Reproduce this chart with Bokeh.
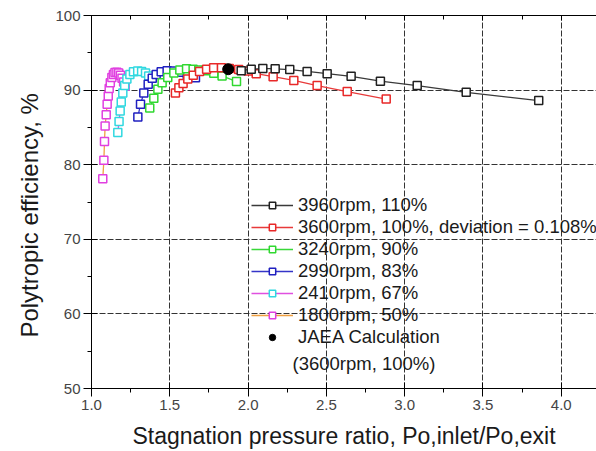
from bokeh.plotting import figure
from bokeh.models import (Legend, LegendItem, LinearAxis, FixedTicker,
                          PrintfTickFormatter, Label)
from bokeh.embed import file_html
from bokeh.resources import INLINE

# ---------------- data ----------------
pr_3960 = [1.956, 2.020, 2.094, 2.173, 2.266, 2.377, 2.505, 2.658, 2.845, 3.080, 3.393, 3.856]
eff_3960 = [92.6, 92.8, 92.9, 92.85, 92.75, 92.5, 92.2, 91.85, 91.2, 90.6, 89.7, 88.6]

pr_3600 = [1.536, 1.558, 1.585, 1.615, 1.650, 1.690, 1.735, 1.780, 1.830, 1.880, 1.940, 2.000,
           2.052, 2.160, 2.292, 2.441, 2.633, 2.882]
eff_3600 = [89.6, 90.3, 90.9, 91.5, 92.0, 92.5, 92.8, 93.0, 93.0, 92.9, 92.75, 92.55,
            92.2, 91.8, 91.3, 90.6, 89.8, 88.8]

pr_3240 = [1.372, 1.398, 1.424, 1.451, 1.487, 1.526, 1.564, 1.607, 1.649, 1.685, 1.728,
           1.781, 1.834, 1.926]
eff_3240 = [87.6, 88.9, 90.1, 91.0, 91.7, 92.3, 92.7, 92.85, 92.8, 92.7, 92.6,
            92.25, 91.9, 91.15]

pr_2990 = [1.296, 1.313, 1.334, 1.362, 1.388, 1.413, 1.445, 1.483, 1.526, 1.568, 1.611, 1.664]
eff_2990 = [86.4, 88.1, 89.6, 90.8, 91.6, 92.1, 92.45, 92.6, 92.55, 92.4, 92.1, 91.65]

pr_2410 = [1.168, 1.176, 1.183, 1.190, 1.200, 1.212, 1.226, 1.245, 1.268, 1.295, 1.320,
           1.345, 1.365]
eff_2410 = [84.3, 85.8, 87.2, 88.4, 89.6, 90.6, 91.5, 92.1, 92.45, 92.55, 92.5,
            92.3, 91.9]

pr_1800 = [1.072, 1.079, 1.083, 1.087, 1.094, 1.100, 1.107, 1.113, 1.120, 1.130, 1.140,
           1.150, 1.162, 1.174, 1.185, 1.195, 1.205, 1.215]
eff_1800 = [78.1, 80.6, 83.1, 85.2, 86.7, 88.1, 89.2, 90.2, 91.0, 91.7, 92.1,
            92.35, 92.4, 92.3, 92.0, 91.6, 91.1, 90.5]

pr_jaea = [1.873]
eff_jaea = [92.8]

series_labels = ["3960rpm, 110%", "3600rpm, 100%, deviation = 0.108%", "3240rpm, 90%",
                 "2990rpm, 83%", "2410rpm, 67%", "1800rpm, 50%"]
jaea_label = ["JAEA Calculation", "(3600rpm, 100%)"]

x_ticks = [1.0, 1.5, 2.0, 2.5, 3.0, 3.5, 4.0]
x_minor = [1.25, 1.75, 2.25, 2.75, 3.25, 3.75, 4.25]
y_ticks = [50, 60, 70, 80, 90, 100]
y_minor = [55, 65, 75, 85, 95]

x_title = "Stagnation pressure ratio, Po,inlet/Po,exit"
y_title = "Polytropic efficiency, %"

# ---------------- styling ----------------
line_colors = ["#3a3a3a", "#e83a3a", "#3ad83a", "#3434c8", "#e050e0", "#f0a040"]
mark_colors = ["#202020", "#e82828", "#30d830", "#2020c0", "#30d8e0", "#e040e0"]
FONT = "Liberation Sans"
TXT = "#1a1a1a"

p = figure(width=596, height=451, x_range=(1.0, 4.225), y_range=(50, 100),
           output_backend="svg", toolbar_location=None,
           min_border_left=91, min_border_right=0, min_border_top=15, min_border_bottom=63,
           background_fill_color="white", border_fill_color="white")
p.outline_line_color = None

xt = FixedTicker(ticks=x_ticks, minor_ticks=x_minor)
yt = FixedTicker(ticks=y_ticks, minor_ticks=y_minor)

for ax, t in ((p.xaxis[0], xt), (p.yaxis[0], yt)):
    ax.ticker = t
    ax.axis_line_color = "black"
    ax.major_tick_line_color = "black"
    ax.minor_tick_line_color = "black"
    ax.major_tick_in = 6
    ax.major_tick_out = 8
    ax.minor_tick_in = 0
    ax.minor_tick_out = 4
    ax.major_label_text_font = FONT
    ax.major_label_text_font_size = "15px"
    ax.major_label_text_color = "#444444"
    ax.major_label_standoff = 3
    ax.axis_label_text_font = FONT
    ax.axis_label_text_font_style = "normal"
    ax.axis_label_text_color = TXT

p.xaxis[0].formatter = PrintfTickFormatter(format="%.1f")
p.xaxis[0].axis_label = x_title
p.xaxis[0].axis_label_text_font_size = "23px"
p.xaxis[0].axis_label_standoff = 10

# trailing no-break spaces nudge the title slightly below the frame centre, as in the reference
p.yaxis[0].axis_label = y_title + "\u00a0" * 4
p.yaxis[0].axis_label_text_font_size = "24px"
p.yaxis[0].axis_label_standoff = 9

top = LinearAxis(ticker=xt, major_label_overrides={t: "" for t in x_ticks},
                 major_tick_in=5, major_tick_out=0, minor_tick_in=4, minor_tick_out=0,
                 axis_line_color="black", major_tick_line_color="black",
                 minor_tick_line_color="black", major_label_standoff=0)
p.add_layout(top, "above")

p.xgrid.ticker = xt
p.ygrid.ticker = yt
for g in (p.xgrid[0], p.ygrid[0]):
    g.grid_line_color = "#333333"
    g.grid_line_dash = "6 2"
    g.grid_line_width = 1

xs = [pr_3960, pr_3600, pr_3240, pr_2990, pr_2410, pr_1800]
ys = [eff_3960, eff_3600, eff_3240, eff_2990, eff_2410, eff_1800]

items = [None] * 6
for i in reversed(range(6)):
    lr = p.line(xs[i], ys[i], line_color=line_colors[i], line_width=1.3)
    sr = p.scatter(xs[i], ys[i], marker="square", size=8, line_color=mark_colors[i],
                   line_width=1.5, fill_color="white")
    items[i] = LegendItem(label=series_labels[i], renderers=[lr, sr])

jr = p.scatter(pr_jaea, eff_jaea, marker="circle", size=11, fill_color="black",
               line_color="black")
items.append(LegendItem(label=jaea_label[0], renderers=[jr]))

legend = Legend(items=items, location=(160, 40), padding=0, margin=0, spacing=0,
                glyph_width=42, glyph_height=16, label_height=22, label_standoff=5,
                label_text_font=FONT, label_text_font_size="18.5px",
                label_text_color=TXT, background_fill_alpha=0,
                border_line_alpha=0)
p.add_layout(legend, "center")

p.add_layout(Label(x=201, y=25, x_units="screen", y_units="screen", text=jaea_label[1],
                   text_font=FONT, text_font_size="18.5px", text_color=TXT,
                   text_baseline="middle"))

open("out.html", "w").write(file_html(p, INLINE))
